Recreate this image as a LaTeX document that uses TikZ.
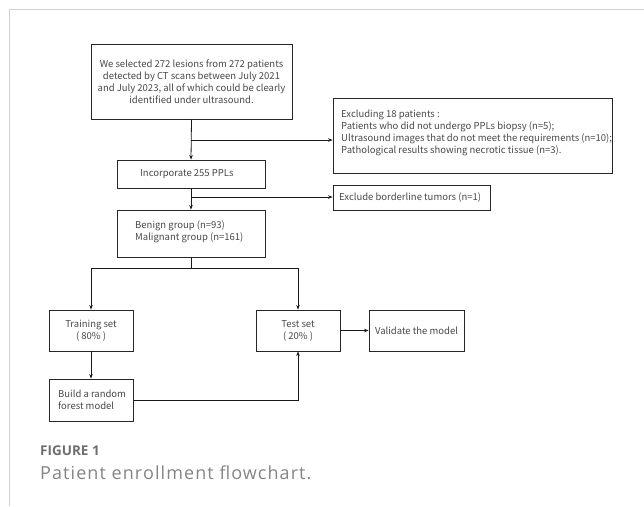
\documentclass[tikz,border=0pt]{standalone}
\usepackage{fontspec}
\setmainfont{Noto Sans CJK SC}
\newfontfamily\capfont{Open Sans}
\newfontfamily\capwide{Open Sans}[LetterSpace=6]
\usetikzlibrary{arrows.meta}
\definecolor{txtgray}{HTML}{484848}
\definecolor{capgray}{HTML}{6E6E6E}
\definecolor{framegray}{HTML}{D0D0D0}
\tikzset{
  box/.style={draw=black!85, line width=0.9pt, inner sep=0pt, text=txtgray,
    font=\fontsize{9.5}{12}\selectfont, align=center},
  txt/.style={inner sep=0pt, text=txtgray, font=\fontsize{9.5}{12}\selectfont, align=left},
  conn/.style={draw=black!90, line width=0.8pt},
  arr/.style={conn, -{Stealth[length=4.5pt,width=3.6pt]}}
}
\begin{document}
\begin{tikzpicture}[x=1pt,y=-1pt]
\useasboundingbox (0,0) rectangle (644,506);
% frame
\draw[framegray, line width=1pt] (9,506) -- (9,9) -- (644,9);
% boxes
\node[box, minimum width=201pt, minimum height=75pt] (b1) at (191.5,81.5)
  {We selected 272 lesions from 272 patients\\detected by CT scans between July 2021\\and July 2023, all of which could be clearly\\identified under ultrasound.};
\node[box, minimum width=279pt, minimum height=75pt] (ex) at (472.5,135.5) {};
\node[txt, anchor=west] (ext) at (341,133)
  {Excluding 18 patients :\\Patients who did not undergo PPLs biopsy (n=5);\\Ultrasound images that do not meet the requirements (n=10);\\Pathological results showing necrotic tissue (n=3).};
\node[box, minimum width=148pt, minimum height=28pt] (inc) at (191,174) {};
\node[txt, anchor=west] (inct) at (140,174) {Incorporate 255 PPLs};
\node[box, minimum width=157pt, minimum height=25pt] (bl) at (411.5,197.5) {};
\node[txt, anchor=west] (blt) at (339,197.5) {Exclude borderline tumors (n=1)};
\node[box, minimum width=148pt, minimum height=47pt] (ben) at (191,233.5) {};
\node[txt, anchor=west] (bent) at (135,232) {Benign group (n=93)\\Malignant group (n=161)};
\node[box, minimum width=84pt, minimum height=41pt] (tr) at (91,330.5) {Training set\\( 80\% )};
\node[box, minimum width=84pt, minimum height=41pt] (te) at (298,330.5) {Test set\\( 20\% )};
\node[box, minimum width=95pt, minimum height=41pt] (va) at (416.5,330.5) {Validate the model};
\node[box, minimum width=84pt, minimum height=42pt] (bu) at (91,400) {};
\node[txt, anchor=west] (but) at (58,400) {Build a random\\forest model};
% connectors
\coordinate (j1) at (191,140);
\coordinate (j2) at (191,197);
\coordinate (j3) at (191,268);
\draw[arr] (b1.south) -- (inc.north);
\draw[arr] (j1) -- (ex.west |- j1);
\draw[arr] (inc.south) -- (ben.north);
\draw[arr] (j2) -- (bl.west |- j2);
\draw[conn] (ben.south) -- (j3);
\draw[arr] (j3) -| (tr.north);
\draw[arr] (j3) -| (te.north);
\draw[arr] (tr.south) -- (bu.north);
\draw[arr] (bu.east) -| (te.south);
\draw[arr] (te.east) -- (va.west);
% caption
\node[anchor=base west, inner sep=0pt, text=capgray, font=\capfont\bfseries\fontsize{13.5}{16}\selectfont] (fig) at (40,455) {FIGURE 1};
\node[anchor=base west, inner sep=0pt, text=capgray!85, font=\capwide\fontsize{18}{20}\selectfont] (cap) at (40,479) {Patient enrollment flowchart.};
\end{tikzpicture}
\end{document}
